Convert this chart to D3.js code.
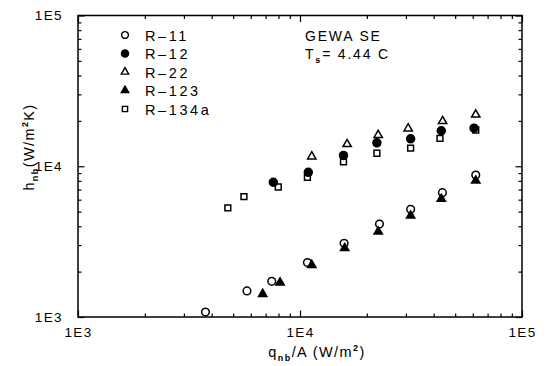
<!DOCTYPE html>
<html>
<head>
<meta charset="utf-8">
<script src="https://cdn.jsdelivr.net/npm/d3@7"></script>
<style>
  body { margin: 0; background: #fff; }
  svg { display: block; }
  text { font-family: "Liberation Sans", Arial, Helvetica, sans-serif; fill: #000; }
</style>
</head>
<body>
<svg id="chart" width="547" height="366"></svg>
<script>
// Nucleate boiling coefficient vs. heat flux, GEWA SE tube, Ts = 4.44 C
const refrigerants = ["R\u201311", "R\u201312", "R\u201322", "R\u2013123", "R\u2013134a"];

const r11Flux = [3750, 5770, 7460, 10800, 15800, 22800, 31500, 43800, 61900];
const r11Coef = [1080, 1490, 1725, 2300, 3080, 4140, 5180, 6680, 8750];

const r12Flux = [7580, 10900, 15700, 22200, 31500, 43300, 60800];
const r12Coef = [7830, 9120, 11800, 14300, 15200, 17200, 17900];

const r22Flux = [11300, 16300, 22500, 30700, 43900, 61900];
const r22Coef = [11600, 14000, 16100, 17800, 19900, 22000];

const r123Flux = [6790, 8130, 11300, 15900, 22500, 31500, 43300, 61900];
const r123Coef = [1420, 1690, 2210, 2860, 3680, 4700, 6070, 8020];

const r134aFlux = [4730, 5590, 7980, 10800, 15700, 22200, 31500, 42700, 61900];
const r134aCoef = [5290, 6280, 7280, 8450, 10700, 12200, 13200, 15300, 17400];

const decadeTicks = [1e3, 1e4, 1e5];
const decadeLabels = ["1E3", "1E4", "1E5"];

const svg = d3.select("#chart");
const plotL = 78, plotR = 522, plotT = 15.5, plotB = 317;

const x = d3.scaleLog().domain([1e3, 1e5]).range([plotL, plotR]);
const y = d3.scaleLog().domain([1e3, 1e5]).range([plotB, plotT]);

// marker styles per refrigerant
const styles = {
  "R\u201311":   { shape: d3.symbolCircle,   size: 46, fill: "none" },
  "R\u201312":   { shape: d3.symbolCircle,   size: 50, fill: "#000" },
  "R\u201322":   { shape: d3.symbolTriangle, size: 30, fill: "none" },
  "R\u2013123":  { shape: d3.symbolTriangle, size: 30, fill: "#000" },
  "R\u2013134a": { shape: d3.symbolSquare,   size: 34, fill: "none" }
};

const data = {
  "R\u201311":   d3.zip(r11Flux, r11Coef),
  "R\u201312":   d3.zip(r12Flux, r12Coef),
  "R\u201322":   d3.zip(r22Flux, r22Coef),
  "R\u2013123":  d3.zip(r123Flux, r123Coef),
  "R\u2013134a": d3.zip(r134aFlux, r134aCoef)
};

// inward ticks on all four sides: decades long, 2..9 multiples short
const minorTicks = x.ticks().filter(v => !decadeTicks.includes(v));

function tickAxis(axisFn, scale, values, len, tx, ty) {
  const g = svg.append("g").attr("transform", `translate(${tx},${ty})`)
    .call(axisFn(scale).tickValues(values).tickSize(-len).tickFormat(() => ""));
  g.select(".domain").remove();
  g.selectAll(".tick line").attr("stroke", "#000").attr("stroke-width", 1.2);
}
[[minorTicks, 3.5], [decadeTicks, 6.5]].forEach(([vals, len]) => {
  tickAxis(d3.axisBottom, x, vals, len, 0, plotB);
  tickAxis(d3.axisTop, x, vals, len, 0, plotT);
  tickAxis(d3.axisLeft, y, vals, len, plotL, 0);
  tickAxis(d3.axisRight, y, vals, len, plotR, 0);
});

// decade labels
const labelFmt = v => decadeLabels[decadeTicks.indexOf(v)];
const xLab = svg.append("g").attr("transform", `translate(0,${plotB})`)
  .call(d3.axisBottom(x).tickValues(decadeTicks).tickSize(0).tickPadding(10).tickFormat(labelFmt));
const yLab = svg.append("g").attr("transform", `translate(${plotL},0)`)
  .call(d3.axisLeft(y).tickValues(decadeTicks).tickSize(0).tickPadding(15).tickFormat(labelFmt));
[xLab, yLab].forEach(g => {
  g.select(".domain").remove();
  g.selectAll("text").attr("font-size", 13.5).attr("letter-spacing", 1.4)
    .attr("font-family", "'Liberation Sans', Arial, sans-serif").attr("fill", "#000");
});

// frame
svg.append("rect")
  .attr("x", plotL).attr("y", plotT)
  .attr("width", plotR - plotL).attr("height", plotB - plotT)
  .attr("fill", "none").attr("stroke", "#000").attr("stroke-width", 1.5);

// points
const drawOrder = ["R\u2013134a", "R\u201322", "R\u201312", "R\u2013123", "R\u201311"];
drawOrder.forEach(name => {
  const s = styles[name];
  const sym = d3.symbol().type(s.shape).size(s.size);
  svg.append("g").selectAll("path").data(data[name]).join("path")
    .attr("d", sym)
    .attr("transform", d => `translate(${x(d[0])},${y(d[1])})`)
    .attr("fill", s.fill)
    .attr("stroke", "#000")
    .attr("stroke-width", 1.5);
});

// legend
const legend = svg.append("g");
refrigerants.forEach((name, i) => {
  const s = styles[name];
  const yy = 35 + i * 18.5;
  legend.append("path")
    .attr("d", d3.symbol().type(s.shape).size(s.size * 0.8)())
    .attr("transform", `translate(125,${yy})`)
    .attr("fill", s.fill).attr("stroke", "#000").attr("stroke-width", 1.4);
  legend.append("text")
    .attr("x", 145).attr("y", yy + 5.5)
    .attr("font-size", 14.5).attr("letter-spacing", 2.6)
    .text(name);
});

// annotation
svg.append("text").attr("x", 305).attr("y", 41)
  .attr("font-size", 14).attr("letter-spacing", 1.8).text("GEWA SE");
const ts = svg.append("text").attr("x", 305).attr("y", 58.5)
  .attr("font-size", 14).attr("letter-spacing", 1.8);
ts.append("tspan").text("T");
ts.append("tspan").attr("dy", 4).attr("font-size", 9).attr("font-weight", "bold").text("s");
ts.append("tspan").attr("dy", -4).text("= 4.44 C");

// axis titles
const xt = svg.append("text").attr("x", 317).attr("y", 357)
  .attr("text-anchor", "middle").attr("font-size", 14.5).attr("letter-spacing", 1.4);
xt.append("tspan").text("q");
xt.append("tspan").attr("dy", 4).attr("font-size", 9).attr("font-weight", "bold").text("nb");
xt.append("tspan").attr("dy", -4).text("/A (W/m");
xt.append("tspan").attr("dy", -6).attr("font-size", 9).attr("font-weight", "bold").text("2");
xt.append("tspan").attr("dy", 6).text(")");

const yt = svg.append("text")
  .attr("transform", "translate(34,147) rotate(-90)")
  .attr("text-anchor", "middle").attr("font-size", 14.5).attr("letter-spacing", 1.4);
yt.append("tspan").text("h");
yt.append("tspan").attr("dy", 4).attr("font-size", 9).attr("font-weight", "bold").text("nb");
yt.append("tspan").attr("dy", -4).text("(W/m");
yt.append("tspan").attr("dy", -6).attr("font-size", 9).attr("font-weight", "bold").text("2");
yt.append("tspan").attr("dy", 6).text("K)");
</script>
</body>
</html>
